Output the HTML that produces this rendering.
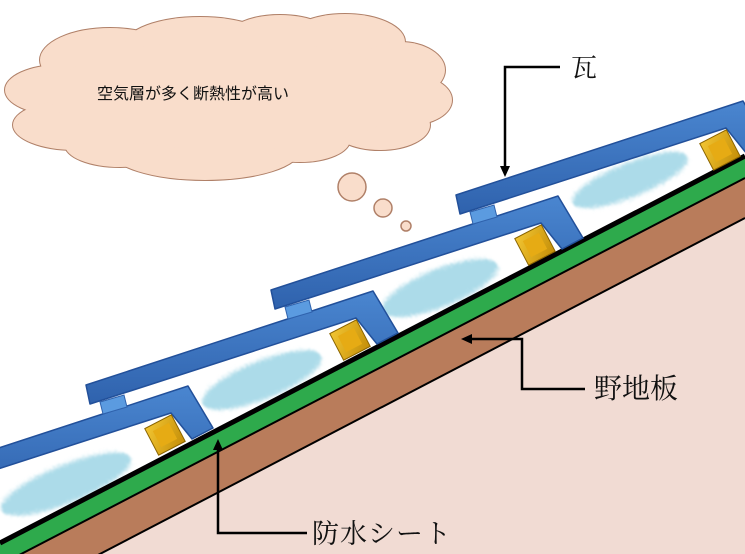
<!DOCTYPE html>
<html><head><meta charset="utf-8"><style>
html,body{margin:0;padding:0;background:#fff;width:745px;height:554px;overflow:hidden}
svg{display:block;position:absolute;left:0;top:0}
.lbl{font-family:"Liberation Serif","Noto Serif CJK SC",serif;fill:#111}
</style></head><body>
<svg width="745" height="554" viewBox="0 0 745 554" xmlns="http://www.w3.org/2000/svg">
<defs>
<filter id="blur" x="-20%" y="-40%" width="140%" height="180%">
<feTurbulence type="fractalNoise" baseFrequency="0.9" numOctaves="2" result="n"/>
<feDisplacementMap in="SourceGraphic" in2="n" scale="12"/>
<feGaussianBlur stdDeviation="1"/>
</filter>
<linearGradient id="tg" x1="0" y1="0" x2="0" y2="1">
<stop offset="0" stop-color="#4a86d0"/><stop offset="1" stop-color="#2f62ad"/>
</linearGradient>
<linearGradient id="wg" x1="0" y1="0" x2="1" y2="1">
<stop offset="0" stop-color="#f2c532"/><stop offset="1" stop-color="#c48e08"/>
</linearGradient>
<g id="tile">
<polygon points="86,385 373,291 398,333 377,344 356,318 90,404" fill="url(#tg)" stroke="#22509a" stroke-width="1.5" stroke-linejoin="round"/>
<polygon points="100,402 124,395 127,407 103,414" fill="#5b9be0" stroke="#2f62ad" stroke-width="1"/>
<g transform="translate(350,340) rotate(-27.5)">
<rect x="-15" y="-15" width="30" height="30" fill="url(#wg)" stroke="#8a6400" stroke-width="1"/>
<rect x="-9" y="-9" width="18" height="18" fill="#e6ab14"/>
</g>
</g>
</defs>

<polygon points="0,606 745,218 745,554 0,554" fill="#f1dbd3"/>
<polygon points="0,565 745,178 745,218 0,606" fill="#b97c5b"/>
<polygon points="0,543 745,156 745,178 0,565" fill="#2eaa4c"/>

<g fill="#acdbe9" filter="url(#blur)">
<ellipse cx="66" cy="484" rx="70" ry="19" transform="rotate(-22 66 484)"/>
<ellipse cx="262" cy="380" rx="64" ry="19" transform="rotate(-22 262 380)"/>
<ellipse cx="440" cy="288" rx="62" ry="19" transform="rotate(-22 440 288)"/>
<ellipse cx="630" cy="180" rx="62" ry="17" transform="rotate(-22 630 180)"/>
</g>

<line x1="0" y1="543" x2="745" y2="156" stroke="#000" stroke-width="5"/>
<line x1="0" y1="565" x2="745" y2="178" stroke="#000" stroke-width="2"/>
<line x1="0" y1="606" x2="745" y2="218" stroke="#000" stroke-width="2"/>

<use href="#tile" transform="translate(-185,95)"/>
<use href="#tile"/>
<use href="#tile" transform="translate(185,-95)"/>
<use href="#tile" transform="translate(370,-190)"/>

<g fill="#f9ddcb" stroke="#b08068" stroke-width="2">
<ellipse cx="60" cy="90" rx="55" ry="25"/>
<ellipse cx="75" cy="125" rx="62" ry="25"/>
<ellipse cx="110" cy="60" rx="70" ry="32"/>
<ellipse cx="200" cy="45" rx="75" ry="28"/>
<ellipse cx="280" cy="40" rx="55" ry="25"/>
<ellipse cx="345" cy="42" rx="60" ry="28"/>
<ellipse cx="400" cy="70" rx="45" ry="28"/>
<ellipse cx="410" cy="100" rx="42" ry="25"/>
<ellipse cx="380" cy="125" rx="50" ry="25"/>
<ellipse cx="300" cy="140" rx="50" ry="22"/>
<ellipse cx="205" cy="150" rx="95" ry="30"/>
<ellipse cx="120" cy="145" rx="55" ry="22"/>
</g>
<g fill="#f9ddcb">
<ellipse cx="60" cy="90" rx="55" ry="25"/>
<ellipse cx="75" cy="125" rx="62" ry="25"/>
<ellipse cx="110" cy="60" rx="70" ry="32"/>
<ellipse cx="200" cy="45" rx="75" ry="28"/>
<ellipse cx="280" cy="40" rx="55" ry="25"/>
<ellipse cx="345" cy="42" rx="60" ry="28"/>
<ellipse cx="400" cy="70" rx="45" ry="28"/>
<ellipse cx="410" cy="100" rx="42" ry="25"/>
<ellipse cx="380" cy="125" rx="50" ry="25"/>
<ellipse cx="300" cy="140" rx="50" ry="22"/>
<ellipse cx="205" cy="150" rx="95" ry="30"/>
<ellipse cx="120" cy="145" rx="55" ry="22"/>
<ellipse cx="230" cy="95" rx="180" ry="55"/>
</g>
<g fill="#f9ddcb" stroke="#b08068" stroke-width="1.5">
<circle cx="352" cy="187" r="14"/>
<circle cx="383" cy="208" r="9"/>
<circle cx="406" cy="226" r="5"/>
</g>
<text x="97" y="99" font-family="'Liberation Sans','Noto Sans CJK JP',sans-serif" font-size="16" fill="#111">空気層が多く断熱性が高い</text>

<g fill="none" stroke="#000" stroke-width="2.5">
<polyline points="560,67 505,67 505,168"/>
<polyline points="585,389 522,389 522,339 470,339"/>
<polyline points="307,533 218,533 218,448"/>
</g>
<polygon points="505,177 500,166 510,166" fill="#000"/>
<polygon points="461,339 472,334 472,344" fill="#000"/>
<polygon points="218,439 213,450 223,450" fill="#000"/>

<text class="lbl" x="571" y="77" font-size="26">瓦</text>
<text class="lbl" x="594" y="398" font-size="28">野地板</text>
<text class="lbl" x="312" y="543" font-size="27" letter-spacing="1">防水シート</text>
</svg>
</body></html>
